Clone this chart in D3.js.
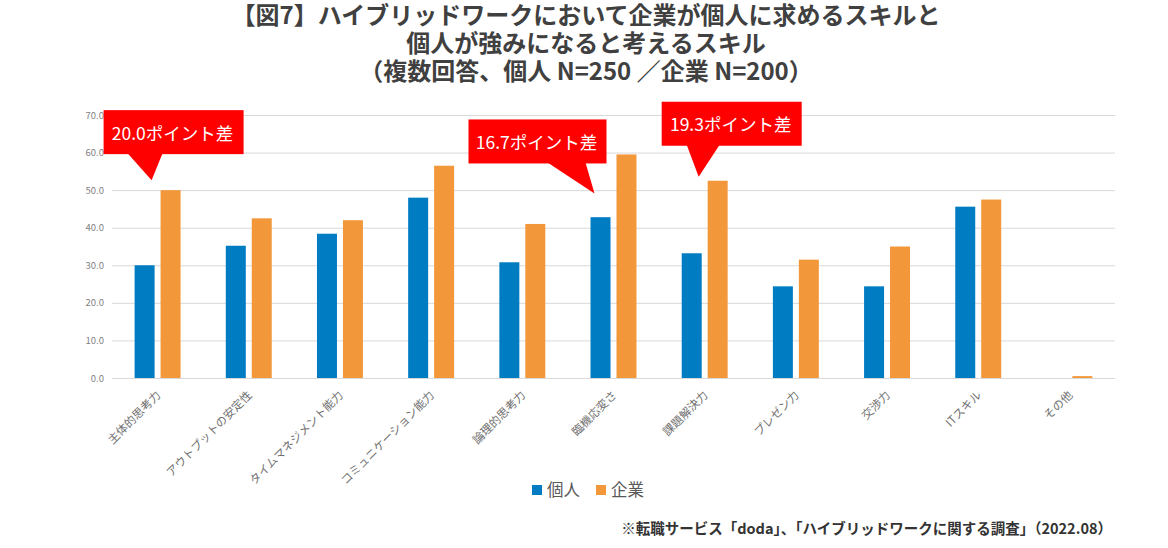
<!DOCTYPE html>
<html>
<head>
<meta charset="utf-8">
<script src="https://cdn.jsdelivr.net/npm/d3@7"></script>
<style>
  body { margin: 0; background: #fff; }
  text { font-family: "Noto Sans CJK JP", "Noto Sans", sans-serif; }
</style>
</head>
<body>
<div id="chart"></div>
<script>
const width = 1168
const height = 548

// data
const categories = ["主体的思考力", "アウトプットの安定性", "タイムマネジメント能力", "コミュニケーション能力",
  "論理的思考力", "臨機応変さ", "課題解決力", "プレゼン力", "交渉力", "ITスキル", "その他"]
const seriesNames = ["個人", "企業"]
const kojin = [30.0, 35.2, 38.4, 48.0, 30.8, 42.8, 33.2, 24.4, 24.4, 45.6, 0.0]
const kigyo = [50.0, 42.5, 42.0, 56.5, 41.0, 59.5, 52.5, 31.5, 35.0, 47.5, 0.5]
const yTicks = [0, 10, 20, 30, 40, 50, 60, 70]
const titleLines = ["【図7】ハイブリッドワークにおいて企業が個人に求めるスキルと",
  "個人が強みになると考えるスキル", "（複数回答、個人 N=250 ／企業 N=200）"]
const calloutCats = ["主体的思考力", "臨機応変さ", "課題解決力"]
const calloutTexts = ["20.0ポイント差", "16.7ポイント差", "19.3ポイント差"]
const source = "※転職サービス「doda」、「ハイブリッドワークに関する調査」（2022.08）"

const colors = ["#007CC3", "#F2983A"]

const svg = d3.select("#chart").append("svg").attr("width", width).attr("height", height)

const plot = { left: 112, right: 1115, top: 115, bottom: 378 }

const x = d3.scaleBand().domain(categories).range([plot.left, plot.right])
  .paddingInner(0.496).paddingOuter(0.248)
const xs = d3.scaleBand().domain(seriesNames).range([0, x.bandwidth()]).paddingInner(0.23)
const y = d3.scaleLinear().domain([0, 70]).range([plot.bottom, plot.top])

// title
svg.append("g").selectAll("text").data(titleLines).join("text")
  .attr("x", 586)
  .attr("y", (d, i) => 24 + i * 28)
  .attr("text-anchor", "middle")
  .attr("font-size", 24)
  .attr("font-weight", "bold")
  .attr("fill", "#404040")
  .text(d => d)

// grid + y axis
const yAxis = d3.axisLeft(y).tickValues(yTicks).tickFormat(d3.format(".1f"))
  .tickSize(-(plot.right - plot.left)).tickPadding(8)
svg.append("g").attr("transform", `translate(${plot.left},0)`).call(yAxis)
  .call(g => g.select(".domain").remove())
  .call(g => g.selectAll(".tick line").attr("stroke", "#d9d9d9"))
  .call(g => g.selectAll(".tick text").attr("fill", "#7f7f7f").attr("font-size", 9.5)
    .attr("font-family", "'Noto Sans', sans-serif"))

// bars
const rows = categories.map((c, i) => ({ cat: c, vals: [kojin[i], kigyo[i]] }))
const groups = svg.append("g").selectAll("g").data(rows).join("g")
  .attr("transform", d => `translate(${x(d.cat)},0)`)
groups.selectAll("rect").data(d => d.vals.map((v, j) => ({ s: seriesNames[j], v, j })))
  .join("rect")
  .attr("x", d => xs(d.s))
  .attr("width", xs.bandwidth())
  .attr("y", d => y(d.v))
  .attr("height", d => y(0) - y(d.v))
  .attr("fill", d => colors[d.j])

// x labels
svg.append("g").selectAll("text").data(categories).join("text")
  .attr("transform", d => `translate(${x(d) + x.bandwidth() / 2 + 1},393) rotate(-45)`)
  .attr("text-anchor", "end")
  .attr("dy", "0.35em")
  .attr("font-size", 11.5)
  .attr("fill", "#707070")
  .text(d => d)

// callouts (tip offsets relative to category center / taller bar)
const calloutLayout = [
  { tipDx: -6, tipDy: -10, boxDx: -48, boxDy: -70, w: 140, h: 44, baseL: -24, baseR: 11 },
  { tipDx: -19, tipDy: 39, boxDx: -126, boxDy: -74, w: 138, h: 44, baseL: -47, baseR: -9 },
  { tipDx: -6, tipDy: -4, boxDx: -37, boxDy: -75, w: 140, h: 44, baseL: -12, baseR: 21 }
]
calloutCats.forEach((c, i) => {
  const k = categories.indexOf(c)
  const L = calloutLayout[i]
  const tx = x(c) + x.bandwidth() / 2 + L.tipDx
  const ty = y(Math.max(kojin[k], kigyo[k])) + L.tipDy
  const bx = tx + L.boxDx, by = ty + L.boxDy
  const g = svg.append("g")
  g.append("rect").attr("x", bx).attr("y", by).attr("width", L.w).attr("height", L.h)
    .attr("fill", "#FF0000")
  g.append("path")
    .attr("d", `M${tx + L.baseL},${by + L.h - 1}L${tx},${ty}L${tx + L.baseR},${by + L.h - 1}Z`)
    .attr("fill", "#FF0000")
  g.append("text").attr("x", bx + L.w / 2 - 1).attr("y", by + L.h / 2)
    .attr("text-anchor", "middle").attr("dominant-baseline", "central")
    .attr("fill", "#fff").attr("font-size", 17.5)
    .text(calloutTexts[i])
})

// legend
const legend = svg.append("g").attr("transform", "translate(532,485)")
const li = legend.selectAll("g").data(seriesNames).join("g")
  .attr("transform", (d, i) => `translate(${i * 64},0)`)
li.append("rect").attr("width", 10).attr("height", 10).attr("fill", (d, i) => colors[i])
li.append("text").attr("x", 15).attr("y", 5).attr("dy", "0.35em")
  .attr("font-size", 16.5).attr("fill", "#595959").text(d => d)

// source
svg.append("text").attr("x", 1112).attr("y", 534).attr("text-anchor", "end")
  .attr("font-size", 14.5).attr("font-weight", "bold").attr("fill", "#333")
  .text(source)
</script>
</body>
</html>
